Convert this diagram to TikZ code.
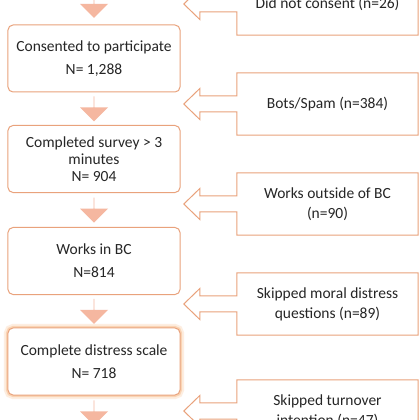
\documentclass[tikz,border=0pt]{standalone}
\usepackage{fontspec}
\setmainfont{Carlito}
\usetikzlibrary{arrows.meta,positioning,shapes.arrows,calc}
\definecolor{edgec}{HTML}{E9A27C}
\definecolor{fillc}{HTML}{F5B7A0}
\definecolor{glowc}{HTML}{F8BC88}
\definecolor{textc}{HTML}{262626}
\tikzset{
  stage/.style={draw=edgec, line width=1bp, rounded corners=5bp, fill=white,
    minimum width=172bp, minimum height=67bp, align=center},
  glow/.style={preaction={draw=glowc, line width=8bp, opacity=0.25},
    preaction={draw=glowc, line width=4bp, opacity=0.5}},
  drop/.style={minimum width=181bp, minimum height=62bp, align=center},
  down/.style={single arrow, shape border rotate=270, fill=fillc, draw=none,
    minimum width=28bp, single arrow head extend=7bp, minimum height=25bp, inner sep=0pt},
  callout/.style={draw=edgec, line width=1bp, line join=miter},
}
% box with an outline arrow pointing left
\newcommand{\outarrow}[1]{%
  \draw[callout] ($(#1.west)+(0,8)$) |- (#1.north east) |- (#1.south west)
    -- ($(#1.west)+(0,-8)$) -- ++(-37,0) -- ++(0,-7.5) -- ($(#1.west)+(-53,0)$)
    -- ($(#1.west)+(-37,15.5)$) -- ++(0,-7.5) -- cycle;}

\begin{document}
\begin{tikzpicture}[x=1bp,y=1bp,font=\fontsize{15.5bp}{17bp}\selectfont,text=textc]
\useasboundingbox[fill=white] (0,0) rectangle (420,420);
% main flow
\node[stage] (cons) at (94,361.5) {Consented to participate\\[6bp] N= 1,288};
\node[stage] (surv) at (94,261) {Completed survey > 3\\ minutes\\ N= 904};
\node[stage] (bc) at (94,159) {Works in BC\\[6bp] N=814};
\node[stage, glow] (scale) at (94,58.5) {Complete distress scale\\[6bp] N= 718};
\coordinate (top) at (94,434);
\coordinate (end) at (94,-10);
\node[down] (a0) at ($(top)!0.5!(cons.north)$) {};
\foreach \a/\b in {cons/surv, surv/bc, bc/scale}
  \node[down] (a-\a) at ($(\a.south)!0.5!(\b.north)$) {};
\node[down] (a5) at ($(scale.south)!0.5!(end)$) {};
% exclusions
\node[drop] (nocon) at (327.5,416) {Did not consent (n=26)};
\node[drop] (bots) at (327.5,316) {Bots/Spam (n=384)};
\node[drop] (out) at (327.5,216) {Works outside of BC\\[3bp] (n=90)};
\node[drop] (skipmd) at (327.5,116) {Skipped moral distress\\[3bp] questions (n=89)};
\node[drop] (skipti) at (327.5,9) {Skipped turnover\\[3bp] intention (n=47)};
\foreach \n in {nocon,bots,out,skipmd,skipti} \outarrow{\n};
\end{tikzpicture}
\end{document}
